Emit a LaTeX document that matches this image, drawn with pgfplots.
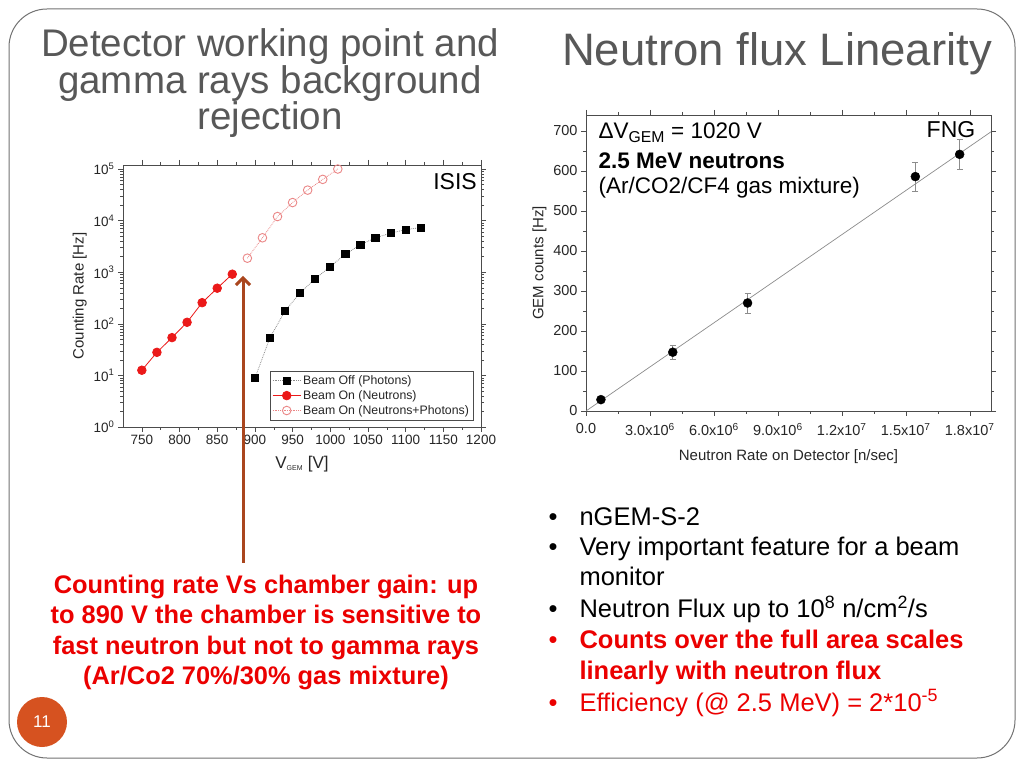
\documentclass[border=0pt]{standalone}
\usepackage{pgfplots}
\pgfplotsset{compat=1.18}
\usepackage{fontspec}
\setmainfont{Liberation Sans}
\usetikzlibrary{arrows.meta}
\definecolor{titlegray}{RGB}{88,88,88}
\definecolor{neured}{RGB}{235,25,25}
\definecolor{neupink}{RGB}{235,135,135}
\definecolor{arrowbrown}{RGB}{170,70,30}
\definecolor{pageorange}{RGB}{214,82,32}
\definecolor{slidered}{RGB}{235,0,0}

\pgfplotstableread{
v rate
750 12.6
770 28
790 54
810 107
830 257
850 490
870 916
}\neutrons
\pgfplotstableread{
v rate
890 1870
910 4650
930 12000
950 22400
970 39000
990 63000
1010 100000
}\mixed
\pgfplotstableread{
v rate
900 8.8
920 54
940 177
960 400
980 745
1000 1290
1020 2230
1040 3400
1060 4660
1080 5700
1100 6700
1120 7300
}\photons

\begin{document}
\begin{tikzpicture}[x=1pt,y=1pt]
\useasboundingbox (0,0) rectangle (1024,768);
\fill[white] (0,0) rectangle (1024,768);
\draw[black!55, line width=1pt, rounded corners=38pt] (9,10) rectangle (1015,759);

% titles
\begin{scope}[every node/.style={font=\fontsize{38.5}{38.5}\selectfont, text=titlegray, anchor=base}]
\node at (270,711) {Detector working point and};
\node at (270,674) {gamma rays background};
\node at (270,638) {rejection};
\end{scope}
\node[font=\fontsize{45.5}{45.5}\selectfont, text=titlegray, anchor=base] at (777,702) {Neutron flux Linearity};

% left chart
\begin{axis}[
  at={(123pt,341pt)}, anchor=south west, scale only axis,
  width=358pt, height=262pt,
  ymode=log, xmin=725, xmax=1200, ymin=1, ymax=1.197e5,
  xtick={750,800,...,1200}, minor x tick num=1,
  ytick={1,10,100,1000,10000,100000},
  yticklabels={10\textsuperscript{0},10\textsuperscript{1},10\textsuperscript{2},10\textsuperscript{3},10\textsuperscript{4},10\textsuperscript{5}},
  tick align=outside, major tick length=5pt, minor tick length=3pt,
  axis line style={black!70}, every tick/.style={black!70},
  tick label style={font=\fontsize{13.5}{13.5}\selectfont, text=black!85},
  /pgf/number format/assume math mode=true,
  /pgf/number format/set thousands separator={},
  xlabel={V\textsubscript{\fontsize{7}{7}\selectfont GEM} [V]},
  ylabel={Counting Rate [Hz]},
  label style={font=\fontsize{15}{15}\selectfont, text=black!85},
  xlabel style={font=\fontsize{17}{17}\selectfont, yshift=-4pt},
  legend style={at={(0.978,0.027)}, anchor=south east, draw=black!70,
    font=\fontsize{12.3}{12.3}\selectfont, text=black!85, row sep=0.5pt, inner sep=2pt},
  legend cell align=left,
  legend image code/.code={\draw[mark repeat=2,mark phase=2,#1] plot coordinates {(0pt,0pt) (14pt,0pt) (28pt,0pt)};},
]
\addplot[black!45, densely dotted, line width=0.8pt, mark=square*, mark size=3.6pt,
  mark options={solid, fill=black, draw=black}] table[x=v, y=rate] {\photons};
\addlegendentry{Beam Off (Photons)}
\addplot[neured, line width=0.8pt, mark=*, mark size=4.3pt,
  mark options={fill=neured, draw=neured}] table[x=v, y=rate] {\neutrons};
\addlegendentry{Beam On (Neutrons)}
\addplot[neupink, densely dotted, line width=0.8pt, mark=o, mark size=4.3pt,
  mark options={solid, draw=neupink, line width=0.9pt}] table[x=v, y=rate] {\mixed};
\addlegendentry{Beam On (Neutrons+Photons)}
\end{axis}
\node[font=\fontsize{23}{23}\selectfont] at (455,586) {ISIS};

% right chart
\begin{axis}[
  at={(586pt,357pt)}, anchor=south west, scale only axis,
  width=405pt, height=296pt,
  xmin=0, xmax=1.9e7, ymin=0, ymax=740,
  xtick={0,3000000,6000000,9000000,12000000,15000000,18000000},
  xticklabels={0.0,3.0x10\textsuperscript{6},6.0x10\textsuperscript{6},9.0x10\textsuperscript{6},1.2x10\textsuperscript{7},1.5x10\textsuperscript{7},1.8x10\textsuperscript{7}},
  scaled x ticks=false,
  ytick={0,100,...,700}, minor x tick num=1, minor y tick num=1,
  tick align=outside, major tick length=5pt, minor tick length=3pt,
  axis line style={black!70}, every tick/.style={black!70},
  tick label style={font=\fontsize{14.5}{14.5}\selectfont, text=black!85},
  xticklabel style={yshift=-4pt},
  /pgf/number format/assume math mode=true,
  xlabel={Neutron Rate on Detector [n/sec]},
  ylabel={GEM counts [Hz]},
  label style={font=\fontsize{15}{15}\selectfont, text=black!85},
  xlabel style={yshift=-7pt},
]
\addplot[black!45, line width=0.7pt] coordinates {(0,0) (1.9e7,698)};
\addplot[only marks, mark=*, mark size=4.5pt, black,
  error bars/.cd, y dir=both, y explicit,
  error bar style={black!45, line width=0.7pt},
  error mark options={black!45, mark size=3pt, rotate=90, line width=0.7pt}]
  coordinates {
  (7.0e5,28.4) +- (0,5)
  (4.07e6,147) +- (0,18)
  (7.58e6,270) +- (0,25)
  (1.545e7,586) +- (0,36)
  (1.753e7,641.6) +- (0,37)
  };
\end{axis}
\node[font=\fontsize{23}{23}\selectfont] at (951,638) {FNG};
\node[anchor=west, font=\fontsize{22.5}{22.5}\selectfont] at (595,635) {Δ{}V\textsubscript{GEM} = 1020 V};
\node[anchor=west, font=\bfseries\fontsize{22.5}{22.5}\selectfont] at (595,607) {2.5 MeV neutrons};
\node[anchor=west, font=\fontsize{22.5}{22.5}\selectfont] at (595,580) {(Ar/CO2/CF4 gas mixture)};

% arrow
\draw[arrowbrown, line width=3pt, -{Straight Barb[length=7pt, width=14pt]}] (243,205) -- (243,492);

% red caption
\begin{scope}[every node/.style={anchor=base, font=\bfseries\fontsize{25.4}{25.4}\selectfont, text=slidered}]
\node at (266,174) {Counting rate Vs chamber gain: up};
\node at (266,144) {to 890 V the chamber is sensitive to};
\node at (266,114) {fast neutron but not to gamma rays};
\node at (266,84) {(Ar/Co2 70\%/30\% gas mixture)};
\end{scope}

% page number
\fill[pageorange] (42,46) circle (25);
\node[text=white, font=\fontsize{17}{17}\selectfont] at (42,46) {11};

% bullets
\begin{scope}[every node/.style={anchor=base west, font=\fontsize{25.5}{25.5}\selectfont}]
\node at (545,242) {\textbullet};
\node at (545,212) {\textbullet};
\node at (545,150) {\textbullet};
\node[text=slidered] at (545,120) {\textbullet};
\node[text=slidered] at (545,57) {\textbullet};
\node at (576,242) {nGEM-S-2};
\node at (576,212) {Very important feature for a beam};
\node at (576,182) {monitor};
\node at (576,150) {Neutron Flux up to 10\textsuperscript{8} n/cm\textsuperscript{2}/s};
\node[text=slidered, font=\bfseries\fontsize{25.5}{25.5}\selectfont] at (576,120) {Counts over the full area scales};
\node[text=slidered, font=\bfseries\fontsize{25.5}{25.5}\selectfont] at (576,89) {linearly with neutron flux};
\node[text=slidered] at (576,57) {Efficiency (@ 2.5 MeV) = 2*10\textsuperscript{-5}};
\end{scope}
\end{tikzpicture}
\end{document}
